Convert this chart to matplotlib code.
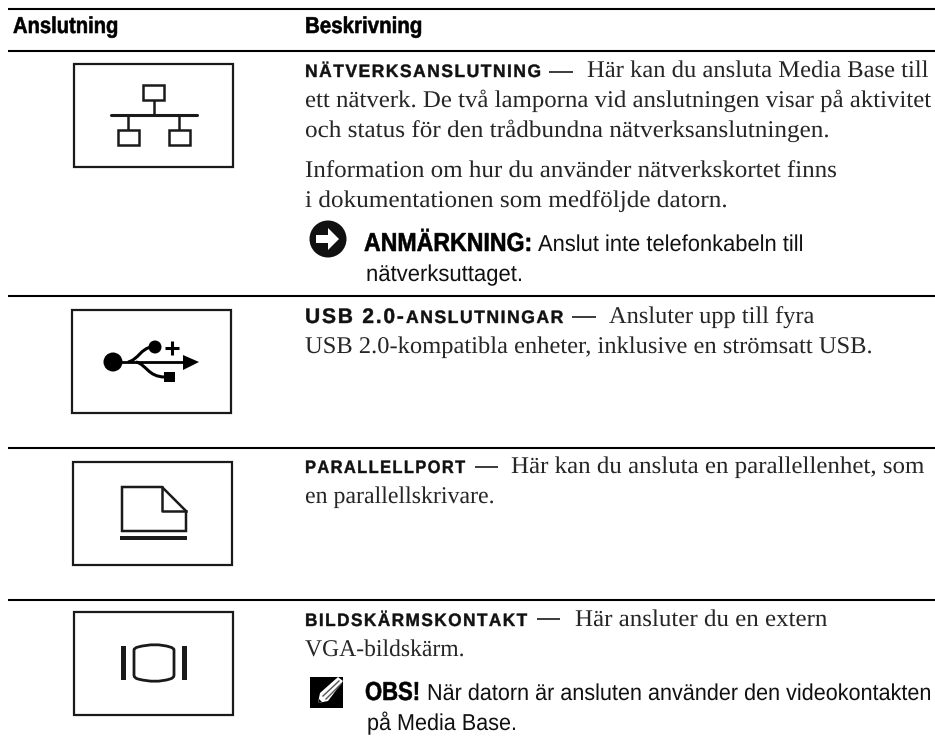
import matplotlib
matplotlib.use("Agg")
import matplotlib.pyplot as plt
from matplotlib.patches import Rectangle, Circle, Polygon, PathPatch
from matplotlib.path import Path
from matplotlib.text import Text
from matplotlib.textpath import TextPath
from matplotlib.transforms import Affine2D, Bbox

# TABLE CONTENT
headers = ["Anslutning", "Beskrivning"]

# (x start, x end, baseline, text)
serif_lines = [
    (587, 928, 77, "Här kan du ansluta Media Base till"),
    (305, 931, 107, "ett nätverk. De två lamporna vid anslutningen visar på aktivitet"),
    (305, 828, 137, "och status för den trådbundna nätverksanslutningen."),
    (305, 836, 177, "Information om hur du använder nätverkskortet finns"),
    (305, 726, 207, "i dokumentationen som medföljde datorn."),
    (609, 814, 323, "Ansluter upp till fyra"),
    (305, 871, 353, "USB 2.0-kompatibla enheter, inklusive en strömsatt USB."),
    (511, 924, 473, "Här kan du ansluta en parallellenhet, som"),
    (305, 493, 503, "en parallellskrivare."),
    (575, 827, 626, "Här ansluter du en extern"),
    (305, 463, 656, "VGA-bildskärm."),
]
caps_lines = [
    (305, 540, 77, 18, "NÄTVERKSANSLUTNING"),
    (305, 403, 323, 21, "USB 2.0-"),
    (406, 563, 323, 18, "ANSLUTNINGAR"),
    (305, 465, 473, 18, "PARALLELLPORT"),
    (305, 527, 626, 18, "BILDSKÄRMSKONTAKT"),
]
dashes = [(549, 573, 72), (572, 596, 317), (475, 498, 467), (537, 560, 619)]
note_lines = [
    (538, 802, 251, "Anslut inte telefonkabeln till"),
    (366, 521, 281, "nätverksuttaget."),
    (427, 930, 700, "När datorn är ansluten använder den videokontakten"),
    (367, 515, 730, "på Media Base."),
]
note_bold = [
    (364, 530, 251, "ANMÄRKNING:"),
    (365, 418, 700, "OBS!"),
]
rule_y = [9, 51, 296, 448, 600]
rule_x = (8, 935)
icon_boxes = [(74, 64, 159, 103), (72, 310, 159, 103), (73, 462, 159, 103), (74, 612, 159, 103)]

INK = "#1a1a1a"
SERIF = "Liberation Serif"
SANS = "Liberation Sans"

fig = plt.figure(figsize=(9.35, 7.43), dpi=100)
ax = fig.add_axes([0, 0, 1, 1])
ax.set_xlim(0, 935)
ax.set_ylim(743, 0)
ax.axis("off")


class SqueezedText(Text):
    # NO CONDENSED FONT INSTALLED : SQUEEZE THE GLYPHS SO THE LINE ENDS AT x1
    def __init__(self, x0, x1, y, s, px, stroke=0, **kw):
        super().__init__(x0, y, s, fontsize=px * 0.72, **kw)
        self.x1, self.px, self.stroke = x1, px, stroke
        self.glyphs = TextPath((0, 0), s, size=px, prop=self.get_fontproperties())
        self.sx = (x1 - x0) / self.glyphs.get_extents().x1
        # STORED SIZE FOLLOWS THE SQUEEZE SO THE PLAIN TEXT LAYOUT KEEPS THE SAME WIDTH
        self.set_fontsize(px * 0.72 * min(1, self.sx))

    def draw(self, renderer):
        tr = Affine2D().scale(self.sx, -1).translate(*self.get_position())
        ec = self.get_color() if self.stroke else "none"
        patch = PathPatch(self.glyphs, fc=self.get_color(), ec=ec, lw=self.stroke, transform=tr + ax.transData)
        patch.set_figure(fig)
        patch.draw(renderer)

    def get_window_extent(self, renderer=None, dpi=None):
        x0, y = self.get_position()
        pts = ax.transData.transform([(x0, y + 0.25 * self.px), (self.x1, y - 0.75 * self.px)])
        return Bbox(pts)


def put(x0, x1, y, s, px, **kw):
    t = SqueezedText(x0, x1, y, s, px, **kw)
    ax.add_artist(t)
    return t


# RULES
for y in rule_y:
    ax.plot(rule_x, (y, y), color="k", lw=1.5, solid_capstyle="butt")

# HEADER
put(13, 117, 33, headers[0], 23, stroke=0.4, family=SANS, fontweight="bold", color="k")
put(305, 421, 33, headers[1], 23, stroke=0.4, family=SANS, fontweight="bold", color="k")

# BODY
for x0, x1, y, s in serif_lines:
    put(x0, x1, y, s, 24, family=SERIF, color="#262626")
for x0, x1, y, px, s in caps_lines:
    put(x0, x1, y, "\u200a".join(s), px, stroke=0.3, family=SANS, fontweight="bold", color="#111111")
for x0, x1, y in dashes:
    ax.plot((x0, x1), (y, y), color=INK, lw=1.2, solid_capstyle="butt")
for x0, x1, y, s in note_lines:
    put(x0, x1, y, s, 23, family=SANS, color="#111111")
for x0, x1, y, s in note_bold:
    put(x0, x1, y, s, 26, stroke=0.4, family=SANS, fontweight="bold", color="k")

# ICON BOXES
for x, y, w, h in icon_boxes:
    ax.add_patch(Rectangle((x, y), w, h, fc="none", ec=INK, lw=1.6))

# NETWORK ICON
for x, y in [(143, 85), (118, 130), (169, 130)]:
    ax.add_patch(Rectangle((x, y), 21, 15, fc="none", ec=INK, lw=1.8))
ax.plot((111, 197), (115, 115), color=INK, lw=2.2, solid_capstyle="round")
for x, y0, y1 in [(154, 100, 115), (128, 115, 130), (179, 115, 130)]:
    ax.plot((x, x), (y0, y1), color=INK, lw=1.8, solid_capstyle="butt")

# USB ICON
ax.add_patch(Circle((113, 362), 9.5, fc="k", ec="none"))
ax.add_patch(Circle((155, 347), 6.5, fc="k", ec="none"))
ax.plot((120, 186), (362, 362), color="k", lw=2, solid_capstyle="butt")
ax.add_patch(Polygon([(183, 355), (199, 362), (183, 370)], fc="k", ec="none"))
ax.add_patch(PathPatch(Path([(128, 362), (138, 360), (141, 348), (152, 347)], [Path.MOVETO, Path.CURVE4, Path.CURVE4, Path.CURVE4]), fc="none", ec="k", lw=2.2))
ax.add_patch(PathPatch(Path([(136, 362), (146, 364), (148, 377), (165, 377)], [Path.MOVETO, Path.CURVE4, Path.CURVE4, Path.CURVE4]), fc="none", ec="k", lw=2.2))
ax.add_patch(Rectangle((164, 372), 11, 10, fc="k", ec="none"))
ax.plot((165, 179), (348, 348), color="k", lw=2.2, solid_capstyle="butt")
ax.plot((172, 172), (341, 355), color="k", lw=2.2, solid_capstyle="butt")

# PARALLEL ICON
ax.add_patch(Polygon([(122, 487), (162, 487), (186, 511), (186, 531), (122, 531)], fc="none", ec=INK, lw=1.8))
ax.plot((162, 162, 186), (487, 511, 511), color=INK, lw=1.8)
ax.add_patch(Rectangle((120, 536), 67, 4, fc=INK, ec="none"))

# VIDEO ICON
ax.add_patch(Rectangle((121, 646), 5, 34, fc=INK, ec="none"))
ax.add_patch(Rectangle((182, 646), 5, 34, fc=INK, ec="none"))
ax.add_patch(PathPatch(Path(
    [(138, 647), (150, 644), (160, 644), (170, 647),
     (174, 648), (174, 650), (174, 663), (174, 675), (174, 678), (170, 679),
     (160, 682), (150, 682), (138, 679),
     (134, 678), (134, 675), (134, 663), (134, 650), (134, 648), (138, 647)],
    [Path.MOVETO, Path.CURVE4, Path.CURVE4, Path.CURVE4,
     Path.CURVE3, Path.CURVE3, Path.LINETO, Path.LINETO, Path.CURVE3, Path.CURVE3,
     Path.CURVE4, Path.CURVE4, Path.CURVE4,
     Path.CURVE3, Path.CURVE3, Path.LINETO, Path.LINETO, Path.CURVE3, Path.CURVE3]),
    fc="none", ec=INK, lw=2))

# NOTICE ICON
ax.add_patch(Circle((328, 239), 18.5, fc="#111111", ec="none"))
ax.add_patch(Polygon([(316, 235), (328, 235), (328, 228), (339, 239), (328, 250), (328, 243), (316, 243)], fc="w", ec="none"))

# NOTE ICON
ax.add_patch(Rectangle((310, 677), 33, 31, fc="k", ec="none"))
ax.add_patch(Polygon([(318, 703), (320, 693), (338, 677), (343, 681), (328, 701)], fc="w", ec="none"))
ax.add_patch(Polygon([(318, 703), (319, 699), (322, 702)], fc="k", ec="none"))
ax.plot((323, 339), (696, 681), color="#555555", lw=1)
ax.plot((326, 341), (699, 684), color="#555555", lw=1)

fig.savefig("out.png", dpi=100, facecolor="w")
